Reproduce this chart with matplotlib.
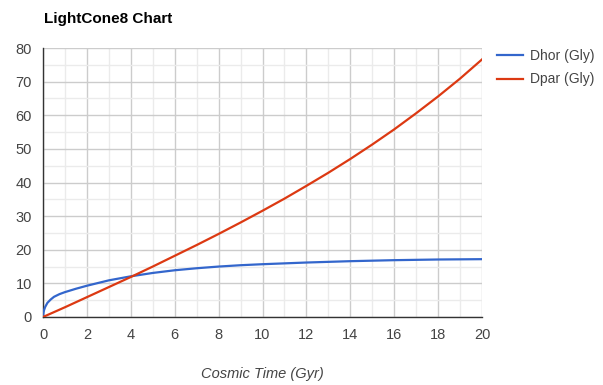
import matplotlib
matplotlib.use('Agg')
import matplotlib.pyplot as plt
from matplotlib.ticker import MultipleLocator

plt.rcParams['font.family'] = ['Liberation Sans', 'DejaVu Sans']

# Dhor (Gly) vs cosmic time
t_hor = [0, 0.02, 0.05, 0.1, 0.2, 0.35, 0.5, 0.75, 1, 1.5, 2, 3, 4, 5, 6, 7, 8, 9, 10, 12, 14, 16, 18, 20]
dhor = [0, 1.3, 2.1, 3.0, 4.2, 5.2, 6.0, 6.8, 7.4, 8.4, 9.3, 10.9, 12.1, 13.1, 13.9, 14.5, 15.0, 15.4,
        15.7, 16.2, 16.6, 16.9, 17.1, 17.2]

# Dpar (Gly) vs cosmic time
t_par = [0, 1, 2, 3, 4, 5, 6, 7, 8, 9, 10, 11, 12, 13, 14, 15, 16, 17, 18, 19, 20]
dpar = [0, 2.9, 5.9, 8.9, 11.9, 15.0, 18.2, 21.4, 24.7, 28.1, 31.6, 35.2, 39.0, 42.9, 47.0, 51.3,
        55.8, 60.6, 65.6, 70.9, 76.6]

fig = plt.figure(figsize=(6.03, 3.85), dpi=100)
ax = fig.add_axes([43/603, 1-317/385, (482-43)/603, (317-48)/385])

ax.plot(t_hor, dhor, color='#3366cc', linewidth=1.6, label='Dhor (Gly)', zorder=3)
ax.plot(t_par, dpar, color='#dc3912', linewidth=1.6, label='Dpar (Gly)', zorder=3)

ax.set_xlim(0, 20)
ax.set_ylim(0, 80)
ax.xaxis.set_major_locator(MultipleLocator(2))
ax.xaxis.set_minor_locator(MultipleLocator(1))
ax.yaxis.set_major_locator(MultipleLocator(10))
ax.yaxis.set_minor_locator(MultipleLocator(5))
ax.grid(which='major', color='#cccccc', linewidth=1)
ax.grid(which='minor', color='#ebebeb', linewidth=1)
ax.set_axisbelow(True)

for s in ['top', 'right']:
    ax.spines[s].set_visible(False)
for s in ['left', 'bottom']:
    ax.spines[s].set_color('#333333')
    ax.spines[s].set_linewidth(1)

ax.tick_params(which='both', length=0, labelsize=10.5, labelcolor='#444444', pad=8)
ax.set_xlabel('Cosmic Time (Gyr)', fontsize=10.5, style='italic', color='#444444', labelpad=18)

fig.text(44/603, 1-19/385, 'LightCone8 Chart', fontsize=11, fontweight='bold', color='#000000',
         va='center', ha='left')

fig.legend(loc='upper left', bbox_to_anchor=(497/603, 1-49/385), frameon=False, fontsize=10,
           handlelength=1.9, handletextpad=0.5, labelspacing=0.68, labelcolor='#444444',
           borderpad=0, borderaxespad=0)

fig.savefig('out.png', dpi=100)
